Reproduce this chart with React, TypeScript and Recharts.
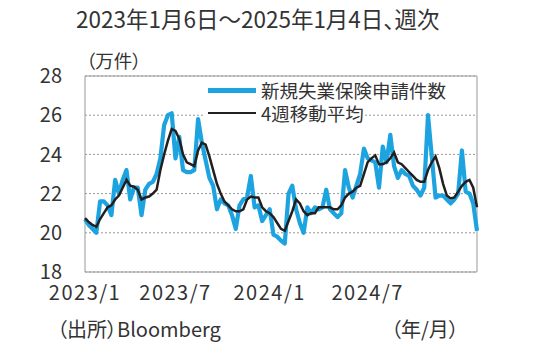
import { LineChart, Line, XAxis, YAxis, CartesianGrid, ReferenceArea } from "recharts";

// 新規失業保険申請件数（万件）、2023/1/6週〜2025/1/4週
const claims = [
  20.7, 20.4, 20.2, 20.0, 21.6, 21.6, 21.4, 20.9, 22.7, 22.0,
  22.7, 23.2, 21.7, 22.3, 22.3, 20.9, 22.2, 22.5, 22.6, 23.0,
  23.8, 25.5, 26.0, 26.1, 23.8, 24.9, 23.2, 23.1, 23.1, 23.2,
  25.8, 24.6, 23.7, 22.8, 22.4, 21.2, 21.7, 21.5, 21.4, 20.9,
  20.2, 21.4, 21.7, 21.8, 22.9, 21.3, 21.4, 20.6, 20.9, 21.2,
  19.9, 19.8, 19.6, 19.45, 22.0, 22.4, 21.2, 20.5, 20.0, 21.3,
  21.0, 21.3, 21.2, 21.3, 22.2, 21.2, 21.0, 20.8, 21.0, 23.2,
  22.3, 21.8, 22.4, 23.0, 24.3, 23.8, 23.7, 23.6, 22.3, 24.4,
  23.6, 25.0, 23.4, 22.8, 23.2, 23.0, 22.9, 22.4, 22.2, 21.9,
  22.3, 26.0, 23.9, 21.8, 21.9, 21.9, 21.7, 21.5, 21.7, 22.0,
  24.2, 22.1, 22.0, 21.5, 20.1,
];

// 4週移動平均（万件）
const avg4w = [
  20.75, 20.55, 20.4, 20.3, 20.7, 21.0, 21.3, 21.4, 21.7, 21.9,
  22.3, 22.7, 22.4, 22.35, 22.2, 21.7, 21.8, 21.85, 22.0, 22.2,
  23.2, 24.0, 24.7, 25.3, 25.2, 24.8, 24.0, 23.6, 23.5, 23.4,
  24.2, 24.6, 24.5, 23.9, 23.2, 22.5, 22.0, 21.6, 21.4, 21.2,
  21.1, 21.1, 21.2, 21.7, 21.85, 21.8, 21.8, 21.3, 21.1, 21.0,
  20.8, 20.5, 20.2, 20.1, 20.6, 21.1, 21.7, 21.5, 21.1, 20.9,
  21.0, 21.0, 21.3, 21.3, 21.3, 21.3, 21.2, 21.2, 21.4, 21.8,
  22.0, 22.1, 22.3, 22.4, 23.0, 23.6, 23.8, 23.95, 23.5, 23.5,
  23.6, 23.8, 24.1, 23.6, 23.5, 23.3, 23.1, 22.9, 22.7, 22.6,
  22.6, 23.2, 23.6, 23.9, 23.3, 22.5, 21.9, 21.75, 21.8, 22.1,
  22.4, 22.6, 22.7, 22.3, 21.3,
];

const xTicks = [0, 24, 49, 75];
const xTickLabels = ["2023/1", "2023/7", "2024/1", "2024/7"];
const yTicks = [18, 20, 22, 24, 26, 28];

const data = claims.map((v, i) => ({ i, claims: v, avg: avg4w[i] }));

const FONT = '"Noto Sans CJK JP", "Noto Sans", sans-serif';
const TEXT = "#333";
const BLUE = "#1DA4E0";
const BLACK = "#231F20";
const palt = { fontFeatureSettings: '"palt"' } as const;

export default function App() {
  return (
    <div
      style={{
        position: "absolute",
        left: 0,
        top: 0,
        width: 540,
        height: 356,
        background: "#fff",
        fontFamily: FONT,
        color: TEXT,
      }}
    >
      <div style={{ ...palt, position: "absolute", left: 76, top: 2, fontSize: 22.5, whiteSpace: "nowrap" }}>
        2023年1月6日～2025年1月4日、週次
      </div>
      <div style={{ ...palt, position: "absolute", left: 86, top: 47, fontSize: 18.5 }}>（万件）</div>

      <LineChart
        width={540}
        height={356}
        data={data}
        margin={{ top: 76, right: 63, bottom: 54, left: 0 }}
      >
        <CartesianGrid vertical={false} stroke="#999" strokeDasharray="2 2" />
        <XAxis
          dataKey="i"
          type="number"
          domain={[0, 104]}
          ticks={xTicks}
          tickFormatter={(v) => xTickLabels[xTicks.indexOf(v)] ?? ""}
          height={30}
          axisLine={false}
          tickLine={false}
          tickSize={0}
          tickMargin={14}
          tick={{ fill: TEXT, fontSize: 20, fontFamily: FONT, letterSpacing: 1.5 }}
          interval={0}
        />
        <YAxis
          domain={[18, 28]}
          ticks={yTicks}
          width={85}
          axisLine={false}
          tickLine={false}
          tickSize={0}
          tickMargin={23}
          tick={{ fill: TEXT, fontSize: 20, fontFamily: FONT }}
          interval={0}
        />
        <ReferenceArea x1={0} x2={104} y1={18} y2={28} fill="none" stroke="#999" strokeWidth={1} />
        <Line
          dataKey="claims"
          stroke={BLUE}
          strokeWidth={4.2}
          dot={false}
          strokeLinejoin="round"
          isAnimationActive={false}
        />
        <Line
          dataKey="avg"
          stroke={BLACK}
          strokeWidth={2.5}
          dot={false}
          isAnimationActive={false}
        />
      </LineChart>

      <div style={{ position: "absolute", left: 205, top: 79, fontSize: 18.5, lineHeight: "22.6px" }}>
        <div style={{ display: "flex", alignItems: "center", background: "#fff", width: "fit-content" }}>
          <span style={{ display: "inline-block", width: 48, height: 5, background: BLUE, margin: "0 5px 0 3px" }} />
          <span>新規失業保険申請件数</span>
        </div>
        <div style={{ display: "flex", alignItems: "center", background: "#fff", width: "fit-content" }}>
          <span style={{ display: "inline-block", width: 48, height: 2.5, background: BLACK, margin: "0 5px 0 3px" }} />
          <span>4週移動平均</span>
        </div>
      </div>

      <div style={{ ...palt, position: "absolute", left: 57, top: 314, fontSize: 20, whiteSpace: "nowrap" }}>
        （出所）Bloomberg
      </div>
      <div style={{ ...palt, position: "absolute", left: 391, top: 314, fontSize: 20 }}>（年/月）</div>
    </div>
  );
}
